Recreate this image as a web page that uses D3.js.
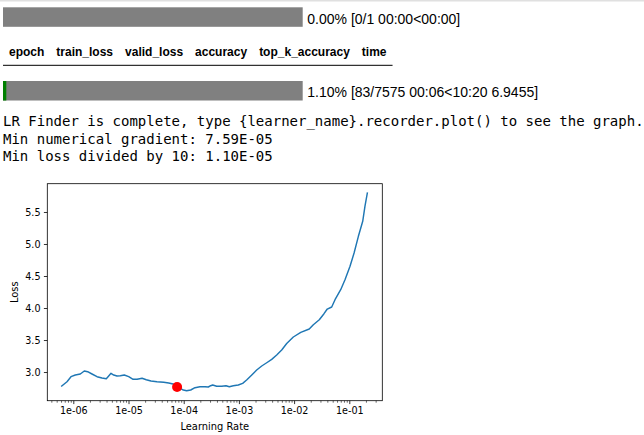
<!DOCTYPE html>
<html>
<head>
<meta charset="utf-8">
<script src="https://cdn.jsdelivr.net/npm/d3@7"></script>
<style>
  html, body { margin: 0; padding: 0; background: #fff; }
  svg { display: block; }
</style>
</head>
<body>
<svg id="chart" width="644" height="435"></svg>
<script>
// ---------- data ----------
const progressTexts = ["0.00% [0/1 00:00<00:00]", "1.10% [83/7575 00:06<10:20 6.9455]"];
const progressValues = [0.0, 0.011];
const headerLabels = ["epoch", "train_loss", "valid_loss", "accuracy", "top_k_accuracy", "time"];
const messageLines = [
  "LR Finder is complete, type {learner_name}.recorder.plot() to see the graph.",
  "Min numerical gradient: 7.59E-05",
  "Min loss divided by 10: 1.10E-05"
];
const learningRates = [
  6.17e-7, 7.69e-7, 9.08e-7, 1.087e-6, 1.34e-6, 1.58e-6, 1.82e-6, 2.18e-6, 2.69e-6, 3.31e-6,
  3.96e-6, 4.38e-6, 4.82e-6, 5.40e-6, 6.19e-6, 7.10e-6, 8.39e-6, 1.009e-5, 1.21e-5, 1.43e-5,
  1.76e-5, 2.10e-5, 2.56e-5, 3.28e-5, 4.34e-5, 5.35e-5, 6.40e-5, 7.66e-5, 9.84e-5, 1.13e-4,
  1.34e-4, 1.60e-4, 1.97e-4, 2.43e-4, 2.79e-4, 3.08e-4, 3.35e-4, 3.96e-4, 4.88e-4, 5.83e-4,
  6.70e-4, 7.92e-4, 9.75e-4, 1.17e-3, 1.38e-3, 1.71e-3, 2.10e-3, 2.59e-3, 3.19e-3, 3.93e-3,
  4.84e-3, 5.96e-3, 7.34e-3, 9.68e-3, 1.32e-2, 1.88e-2, 2.23e-2, 2.86e-2, 3.48e-2, 3.99e-2,
  4.80e-2, 5.51e-2, 6.98e-2, 8.35e-2, 0.103, 0.122, 0.146, 0.175, 0.192, 0.212
];
const losses = [
  2.781, 2.848, 2.927, 2.953, 2.969, 3.016, 3.005, 2.969, 2.927, 2.906,
  2.895, 2.938, 2.980, 2.953, 2.938, 2.942, 2.953, 2.927, 2.886, 2.886,
  2.902, 2.880, 2.859, 2.848, 2.839, 2.828, 2.813, 2.773, 2.719, 2.708,
  2.719, 2.755, 2.770, 2.770, 2.766, 2.786, 2.797, 2.777, 2.777, 2.786,
  2.770, 2.786, 2.797, 2.823, 2.875, 2.953, 3.031, 3.094, 3.145, 3.198,
  3.266, 3.344, 3.445, 3.547, 3.620, 3.672, 3.739, 3.817, 3.911, 3.984,
  4.016, 4.130, 4.286, 4.442, 4.652, 4.859, 5.120, 5.355, 5.589, 5.797
];
const suggestedPoint = { lr: 7.59e-5, loss: 2.765 };
const xMajorTicks = [1e-6, 1e-5, 1e-4, 1e-3, 1e-2, 1e-1];
const xTickLabels = ["1e-06", "1e-05", "1e-04", "1e-03", "1e-02", "1e-01"];
const yTicks = [3.0, 3.5, 4.0, 4.5, 5.0, 5.5];
const yTickLabels = ["3.0", "3.5", "4.0", "4.5", "5.0", "5.5"];
const xLimits = [3.38e-7, 0.396];
const yLimits = [2.552, 5.942];

// ---------- drawing ----------
const svg = d3.select("#chart");
const sans = "'Liberation Sans', Arial, sans-serif";
const mono = "'DejaVu Sans Mono', monospace";
const mpl = "'DejaVu Sans', sans-serif";

// top border line
svg.append("rect").attr("x", 0).attr("y", 0).attr("width", 644).attr("height", 1.5).attr("fill", "#e0e0e0");

// progress bars
const barScale = d3.scaleLinear().domain([0, 1]).range([0, 299.7]);
const barTops = [7.3, 81];
const barH = 19.5;
progressValues.forEach((v, i) => {
  svg.append("rect").attr("x", 3).attr("y", barTops[i]).attr("width", barScale(1)).attr("height", barH).attr("fill", "#808080");
  if (v > 0) svg.append("rect").attr("x", 3).attr("y", barTops[i]).attr("width", barScale(v)).attr("height", barH).attr("fill", "#008000");
  svg.append("text").attr("x", 307.3).attr("y", barTops[i] + 16.2)
    .attr("font-family", sans).attr("font-size", 14).attr("fill", "#000")
    .text(progressTexts[i]);
});

// header table
let hx = 3;
headerLabels.forEach(lbl => {
  const t = svg.append("text").attr("x", hx + 6).attr("y", 56)
    .attr("font-family", sans).attr("font-size", 12).attr("font-weight", "bold").attr("fill", "#000")
    .text(lbl);
  hx += 6 + t.node().getComputedTextLength() + 6;
});
svg.append("rect").attr("x", 3).attr("y", 64.8).attr("width", hx - 3).attr("height", 1).attr("fill", "#000");

// messages
const msgBaselines = [126.3, 143.6, 160.6];
messageLines.forEach((m, i) => {
  svg.append("text").attr("x", 3).attr("y", msgBaselines[i])
    .attr("font-family", mono).attr("font-size", 14).attr("fill", "#000")
    .attr("xml:space", "preserve").style("white-space", "pre")
    .text(m);
});

// plot
const plot = { left: 47.3, right: 382.3, top: 183.7, bottom: 400.7 };
const x = d3.scaleLog().domain(xLimits).range([plot.left, plot.right]);
const y = d3.scaleLinear().domain(yLimits).range([plot.bottom, plot.top]);

const minorTicks = [];
for (let e = -7; e <= 0; e++) {
  for (let m = 2; m <= 9; m++) {
    const v = m * Math.pow(10, e);
    if (v >= xLimits[0] && v <= xLimits[1]) minorTicks.push(v);
  }
}

const g = svg.append("g");
const clipId = "plotclip";
svg.append("defs").append("clipPath").attr("id", clipId)
  .append("rect").attr("x", plot.left).attr("y", plot.top)
  .attr("width", plot.right - plot.left).attr("height", plot.bottom - plot.top);

// curve
const line = d3.line().x((d, i) => x(learningRates[i])).y(d => y(d));
g.append("path").datum(losses).attr("d", line)
  .attr("fill", "none").attr("stroke", "#1f77b4").attr("stroke-width", 1.45)
  .attr("stroke-linejoin", "round").attr("stroke-linecap", "square")
  .attr("clip-path", `url(#${clipId})`);

// suggested point
g.append("circle").attr("cx", x(suggestedPoint.lr)).attr("cy", y(suggestedPoint.loss))
  .attr("r", 5).attr("fill", "#ff0000");

// x axis major
const xAxis = d3.axisBottom(x).tickValues(xMajorTicks)
  .tickFormat((d, i) => xTickLabels[i]).tickSizeInner(3.4).tickSizeOuter(0).tickPadding(3.2);
const xg = g.append("g").attr("transform", `translate(0,${plot.bottom})`).call(xAxis);
xg.select(".domain").remove();
xg.selectAll("line").attr("stroke", "#000").attr("stroke-width", 0.8);
xg.selectAll("text").attr("font-family", mpl).attr("font-size", 9.6).attr("fill", "#000");
// x axis minor
const xMinor = d3.axisBottom(x).tickValues(minorTicks).tickFormat("").tickSizeInner(2).tickSizeOuter(0);
const xmg = g.append("g").attr("transform", `translate(0,${plot.bottom})`).call(xMinor);
xmg.select(".domain").remove();
xmg.selectAll("line").attr("stroke", "#000").attr("stroke-width", 0.6);

// y axis
const yAxis = d3.axisLeft(y).tickValues(yTicks)
  .tickFormat((d, i) => yTickLabels[i]).tickSizeInner(3.4).tickSizeOuter(0).tickPadding(3.4);
const yg = g.append("g").attr("transform", `translate(${plot.left},0)`).call(yAxis);
yg.select(".domain").remove();
yg.selectAll("line").attr("stroke", "#000").attr("stroke-width", 0.8);
yg.selectAll("text").attr("font-family", mpl).attr("font-size", 9.6).attr("fill", "#000");

// frame
g.append("rect").attr("x", plot.left).attr("y", plot.top)
  .attr("width", plot.right - plot.left).attr("height", plot.bottom - plot.top)
  .attr("fill", "none").attr("stroke", "#000").attr("stroke-width", 0.8);

// axis labels
g.append("text").attr("x", (plot.left + plot.right) / 2).attr("y", 430)
  .attr("text-anchor", "middle").attr("font-family", mpl).attr("font-size", 9.9).attr("fill", "#000")
  .text("Learning Rate");
g.append("text").attr("transform", `translate(18.3,${(plot.top + plot.bottom) / 2}) rotate(-90)`)
  .attr("text-anchor", "middle").attr("font-family", mpl).attr("font-size", 9.9).attr("fill", "#000")
  .text("Loss");
</script>
</body>
</html>
